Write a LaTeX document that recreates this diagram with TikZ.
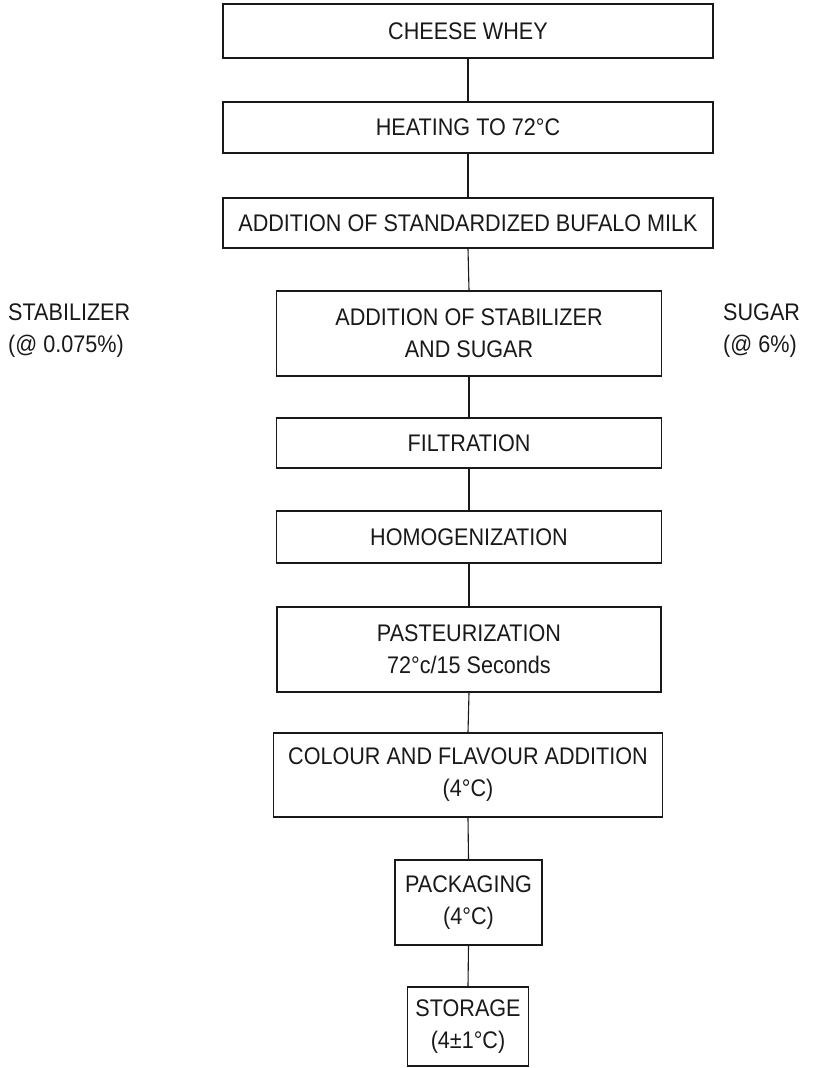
\documentclass[tikz,border=0pt]{standalone}
\usepackage{fontspec}
\setmainfont{Liberation Sans}[FakeStretch=0.9]
\usetikzlibrary{positioning}
\definecolor{inkcol}{RGB}{25,25,25}
\tikzset{
  stepbox/.style={draw=inkcol, line width=1.6pt, align=center, inner sep=0pt, text=inkcol,
    font=\fontsize{24}{32}\selectfont},
  sidenote/.style={align=left, anchor=west, inner sep=0pt, text=inkcol,
    font=\fontsize{24}{32}\selectfont},
  link/.style={draw=inkcol, line width=1.1pt}
}

\begin{document}
\begin{tikzpicture}[
    x=1pt, y=-1pt
  ]
  \useasboundingbox (0,0) rectangle (819,1068);

  % --- upper steps, wide boxes ----------------------------------------------
  \node[stepbox, minimum width=490pt, minimum height=54pt] (whey) at (468,31) {CHEESE WHEY};
  \node[stepbox, minimum width=490pt, minimum height=51pt] (heat) at (468,127.5) {HEATING TO 72°C};
  \node[stepbox, minimum width=490pt, minimum height=50pt] (milk) at (468,223) {ADDITION OF STANDARDIZED BUFALO MILK};

  % --- middle steps -----------------------------------------------------------
  \node[stepbox, minimum width=385pt, minimum height=85pt] (stab) at (469,333.5) {ADDITION OF STABILIZER\\AND SUGAR};
  \node[stepbox, minimum width=385pt, minimum height=50pt] (filt) at (469,443) {FILTRATION};
  \node[stepbox, minimum width=385pt, minimum height=52pt] (homo) at (469,537) {HOMOGENIZATION};
  \node[stepbox, minimum width=384pt, minimum height=85pt] (past) at (469,649.5) {PASTEURIZATION\\72°c/15 Seconds};
  \node[stepbox, minimum width=389pt, minimum height=84pt] (colour) at (468,775) {COLOUR AND FLAVOUR ADDITION\\(4°C)};

  % --- last steps, small boxes ------------------------------------------------
  \node[stepbox, minimum width=147pt, minimum height=85pt] (pack) at (468.5,902.5) {PACKAGING\\(4°C)};
  \node[stepbox, minimum width=121pt, minimum height=79pt] (store) at (468,1026.5) {STORAGE\\(4±1°C)};

  % --- ingredient notes beside the stabilizer step -----------------------------
  \node[sidenote] (stabnote) at (8,331) {STABILIZER\\(@ 0.075\%)};
  \node[sidenote] (sugarnote) at (723,331) {SUGAR\\(@ 6\%)};

  % --- connectors -------------------------------------------------------------
  \foreach \a/\b in {whey/heat, heat/milk, milk/stab, stab/filt, filt/homo,
                     homo/past, past/colour, colour/pack, pack/store}
    \draw[link] (\a.south) -- (\b.north);

\end{tikzpicture}
\end{document}
